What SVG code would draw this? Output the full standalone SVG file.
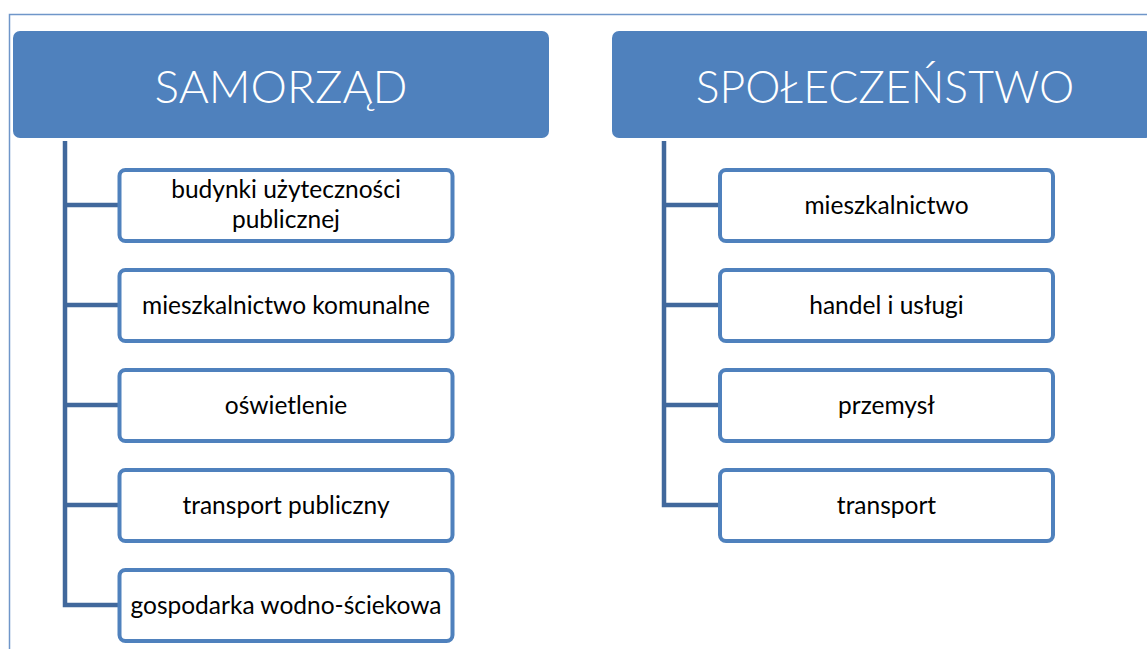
<svg xmlns="http://www.w3.org/2000/svg" width="1147" height="649" viewBox="0 0 1147 649">
<style>
.frame{fill:#ffffff;stroke:#6f96c9;stroke-width:1.5}
.head{fill:#4f81bd}
.headtxt{font-family:Lato,"Open Sans","Liberation Sans",sans-serif;font-size:46px;font-weight:300;fill:#ffffff;text-anchor:middle}
.box{fill:#ffffff;stroke:#4f81bd;stroke-width:4}
.txt{font-family:Lato,"Open Sans","Liberation Sans",sans-serif;font-size:24.5px;fill:#000000;text-anchor:middle}
.conn{fill:none;stroke:#41689c;stroke-width:4.5;stroke-linejoin:miter}
</style>
<rect width="1147" height="649" fill="#ffffff"/>
<rect class="frame" x="9.5" y="14.5" width="1150" height="650"/>
<g id="connectors">
<path class="conn" d="M65 141 V605 H119 M65 205 H119 M65 305 H119 M65 405 H119 M65 505 H119"/>
<path class="conn" d="M664 141 V505 H720 M664 205 H720 M664 305 H720 M664 405 H720"/>
</g>
<g id="samorzad">
<rect class="head" x="13" y="31" width="536" height="107" rx="7"/>
<text class="headtxt" x="281" y="103">SAMORZĄD</text>
</g>
<g id="spoleczenstwo">
<rect class="head" x="612" y="31" width="540" height="107" rx="7"/>
<text class="headtxt" x="885" y="103" style="font-size:44.5px">SPOŁECZEŃSTWO</text>
</g>
<g id="budynki">
<rect class="box" x="119.5" y="170" width="333" height="71" rx="6"/>
<text class="txt" x="286" y="198">budynki użyteczności</text>
<text class="txt" x="286" y="228">publicznej</text>
</g>
<g id="mieszkalnictwo-komunalne">
<rect class="box" x="119.5" y="270" width="333" height="71" rx="6"/>
<text class="txt" x="286" y="314">mieszkalnictwo komunalne</text>
</g>
<g id="oswietlenie">
<rect class="box" x="119.5" y="370" width="333" height="71" rx="6"/>
<text class="txt" x="286" y="414">oświetlenie</text>
</g>
<g id="transport-publiczny">
<rect class="box" x="119.5" y="470" width="333" height="71" rx="6"/>
<text class="txt" x="286" y="514">transport publiczny</text>
</g>
<g id="gospodarka">
<rect class="box" x="119.5" y="570" width="333" height="71" rx="6"/>
<text class="txt" x="286" y="614">gospodarka wodno-ściekowa</text>
</g>
<g id="mieszkalnictwo">
<rect class="box" x="720" y="170" width="333" height="71" rx="6"/>
<text class="txt" x="886.5" y="214">mieszkalnictwo</text>
</g>
<g id="handel">
<rect class="box" x="720" y="270" width="333" height="71" rx="6"/>
<text class="txt" x="886.5" y="314">handel i usługi</text>
</g>
<g id="przemysl">
<rect class="box" x="720" y="370" width="333" height="71" rx="6"/>
<text class="txt" x="886.5" y="414">przemysł</text>
</g>
<g id="transport">
<rect class="box" x="720" y="470" width="333" height="71" rx="6"/>
<text class="txt" x="886.5" y="514">transport</text>
</g>
</svg>
